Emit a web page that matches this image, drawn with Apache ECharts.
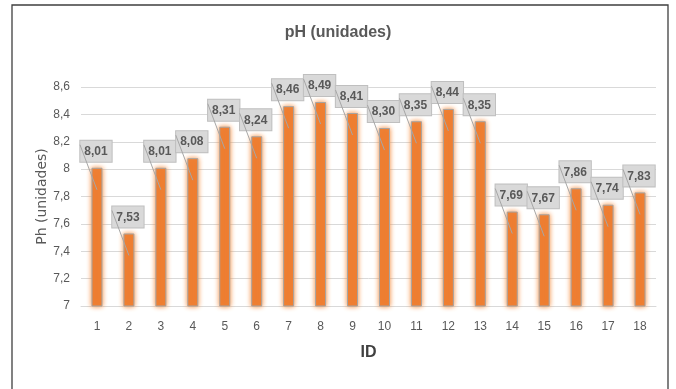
<!DOCTYPE html>
<html>
<head>
<meta charset="utf-8">
<style>
  html, body { margin: 0; padding: 0; background: #ffffff; }
  #chart { width: 676px; height: 389px; }
</style>
<script src="https://cdn.jsdelivr.net/npm/echarts@6/dist/echarts.min.js"></script>
</head>
<body>
<div id="chart"></div>
<script>
// pH measured at each sampling point
const ids = ['1','2','3','4','5','6','7','8','9','10','11','12','13','14','15','16','17','18'];
const phValues = [8.01, 7.53, 8.01, 8.08, 8.31, 8.24, 8.46, 8.49, 8.41, 8.30, 8.35, 8.44, 8.35, 7.69, 7.67, 7.86, 7.74, 7.83];
const yTicks = [7, 7.2, 7.4, 7.6, 7.8, 8, 8.2, 8.4, 8.6];

const comma = v => String(v).replace('.', ',');
const fontFamily = "'Liberation Sans', Arial, sans-serif";

const chart = echarts.init(document.getElementById('chart'), null, { renderer: 'canvas' });

chart.setOption({
  backgroundColor: '#ffffff',
  animation: false,
  title: {
    text: 'pH (unidades)',
    left: 'center',
    top: 20,
    textStyle: { fontFamily, fontSize: 16, fontWeight: 'bold', color: '#595959' }
  },
  graphic: [{
    type: 'rect',
    shape: { x: 12, y: 5, width: 656, height: 395 },
    style: { fill: 'none', stroke: '#3f3f3f', lineWidth: 1.3 },
    silent: true,
    z: 100
  }],
  grid: { left: 81, right: 20, top: 87, bottom: 83 },
  xAxis: {
    type: 'category',
    data: ids,
    name: 'ID',
    nameLocation: 'middle',
    nameGap: 39,
    nameMoveOverlap: false,
    nameTextStyle: { fontFamily, fontSize: 16, fontWeight: 'bold', color: '#404040' },
    axisLine: { lineStyle: { color: '#d9d9d9' } },
    axisTick: { show: false },
    axisLabel: { fontFamily, fontSize: 12, color: '#595959', margin: 15 }
  },
  yAxis: {
    type: 'value',
    min: yTicks[0],
    max: yTicks[yTicks.length - 1],
    interval: 0.2,
    name: 'Ph (unidades)',
    nameLocation: 'middle',
    nameGap: 32,
    nameMoveOverlap: false,
    nameTextStyle: { fontFamily: "'DejaVu Sans', sans-serif", fontSize: 14, color: '#595959' },
    axisLine: { show: false },
    axisTick: { show: false },
    splitLine: { lineStyle: { color: '#d9d9d9' } },
    axisLabel: {
      fontFamily, fontSize: 12, color: '#595959', margin: 11,
      formatter: v => comma(Math.round(v * 10) / 10)
    }
  },
  series: [
    {
      type: 'bar',
      data: phValues,
      barWidth: 11,
      z: 2,
      itemStyle: {
        color: '#ed7d31',
        borderColor: '#a5a5a5',
        borderWidth: 1,
        shadowBlur: 5,
        shadowColor: 'rgba(245, 140, 60, 1)'
      },
      label: {
        show: true,
        position: 'top',
        distance: 6,
        offset: [-1, 0],
        formatter: p => p.value.toFixed(2).replace('.', ','),
        fontFamily,
        fontSize: 12,
        fontWeight: 'bold',
        color: '#595959',
        backgroundColor: '#d9d9d9',
        borderColor: '#bfbfbf',
        borderWidth: 1,
        padding: [5, 4, 4, 4]
      }
    },
    {
      // callout leader lines running from each label down into its bar
      type: 'custom',
      z: 5,
      silent: true,
      data: phValues.map((v, i) => [i, v]),
      renderItem: (params, api) => {
        const top = api.coord([api.value(0), api.value(1)]);
        return {
          type: 'line',
          shape: { x1: top[0] - 17, y1: top[1] - 23, x2: top[0], y2: top[1] + 22 },
          style: { stroke: '#a6a6a6', lineWidth: 1 }
        };
      }
    }
  ]
});
</script>
</body>
</html>
